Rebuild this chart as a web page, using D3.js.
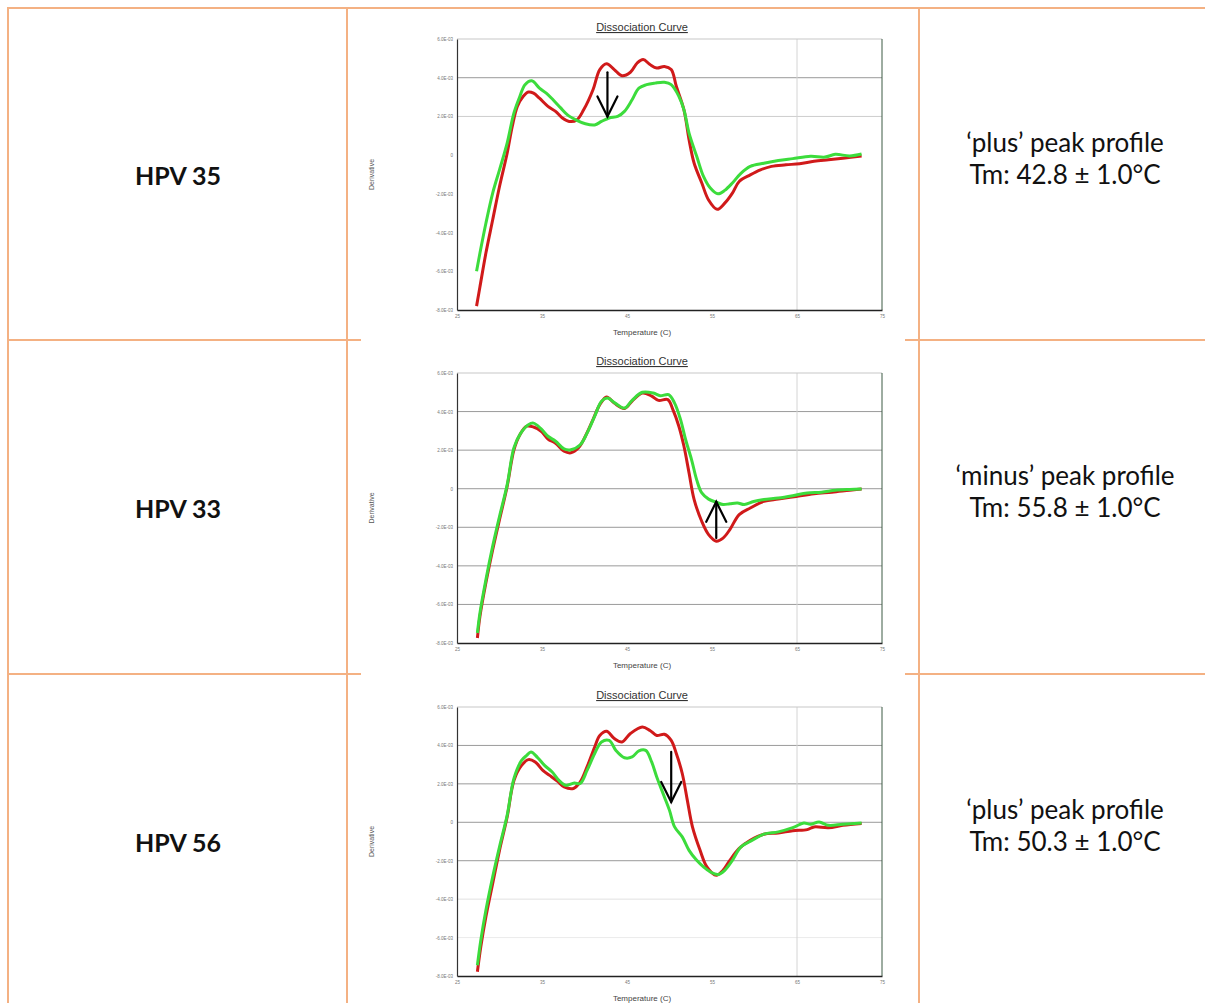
<!DOCTYPE html>
<html><head><meta charset="utf-8">
<script src="https://cdn.jsdelivr.net/npm/d3@7"></script>
<style>
html,body{margin:0;padding:0;background:#fff;}
svg{display:block;}
</style></head>
<body>
<script>
// ---------- data ----------
const rowLabels = ["HPV 35", "HPV 33", "HPV 56"];
const profileLines = [
  ["\u2018plus\u2019 peak profile", "Tm: 42.8 \u00b1 1.0\u00b0C"],
  ["\u2018minus\u2019 peak profile", "Tm: 55.8 \u00b1 1.0\u00b0C"],
  ["\u2018plus\u2019 peak profile", "Tm: 50.3 \u00b1 1.0\u00b0C"]
];
const chartTitle = "Dissociation Curve";
const xTicks = [25, 35, 45, 55, 65, 75];
const yTicks = [3, 2, 1, 0, -1, -2, -3, -4];
const yTickLabels = ["6.0E-03", "4.0E-03", "2.0E-03", "0", "-2.0E-03", "-4.0E-03", "-6.0E-03", "-8.0E-03"];

// chart 1 (HPV 35): [temperature, derivative]
const red1 = [[27.3,-3.9],[27.7,-3.4],[28.4,-2.53],[29.2,-1.67],[30.0,-0.81],[30.9,0.05],[31.5,0.74],[32.1,1.26],[32.8,1.52],[33.4,1.63],[34.0,1.6],[34.7,1.47],[35.7,1.26],[36.6,1.13],[37.4,0.96],[38.2,0.87],[39.1,0.91],[39.9,1.17],[41.0,1.69],[41.8,2.21],[42.6,2.36],[43.5,2.21],[44.4,2.05],[45.4,2.14],[46.2,2.38],[46.9,2.47],[47.7,2.34],[48.5,2.25],[49.4,2.29],[50.2,2.21],[50.8,1.78],[51.7,1.17],[52.3,0.40],[52.9,-0.21],[53.8,-0.72],[54.6,-1.16],[55.6,-1.40],[56.5,-1.24],[57.4,-0.98],[58.2,-0.68],[59.5,-0.51],[60.7,-0.38],[62.0,-0.29],[63.7,-0.25],[65.3,-0.22],[67.0,-0.16],[68.7,-0.12],[70.4,-0.08],[72.6,-0.02]];
const green1 = [[27.3,-3.0],[27.7,-2.53],[28.4,-1.76],[29.2,-0.98],[30.0,-0.38],[30.9,0.31],[31.7,1.09],[32.4,1.52],[33.0,1.82],[33.8,1.92],[34.7,1.73],[35.5,1.6],[36.3,1.43],[37.2,1.22],[38.0,1.04],[39.1,0.9],[40.1,0.81],[41.2,0.78],[42.0,0.87],[42.9,0.96],[43.9,1.0],[44.7,1.13],[45.6,1.43],[46.4,1.73],[47.3,1.82],[48.3,1.86],[49.4,1.88],[50.2,1.82],[51.1,1.52],[51.7,1.17],[52.3,0.57],[53.2,-0.03],[54.0,-0.55],[54.8,-0.85],[55.7,-1.0],[56.5,-0.91],[57.4,-0.72],[58.4,-0.47],[59.5,-0.29],[61.1,-0.21],[62.8,-0.14],[64.5,-0.09],[66.6,-0.03],[68.3,-0.05],[69.5,0.02],[71.2,-0.02],[72.6,0.03]];
// chart 2 (HPV 33)
const red2 = [[27.4,-3.87],[27.7,-3.31],[28.4,-2.44],[29.2,-1.58],[30.0,-0.80],[30.9,0.06],[31.7,1.01],[32.4,1.40],[33.2,1.62],[34.0,1.60],[34.9,1.49],[35.7,1.29],[36.6,1.18],[37.6,0.97],[38.4,0.93],[39.3,1.06],[40.1,1.36],[41.0,1.79],[41.8,2.18],[42.6,2.38],[43.5,2.22],[44.7,2.08],[45.6,2.27],[46.8,2.48],[47.9,2.40],[48.7,2.29],[49.8,2.31],[50.4,2.05],[51.1,1.62],[51.7,1.10],[52.3,0.41],[52.9,-0.28],[53.8,-0.85],[54.6,-1.19],[55.5,-1.36],[56.3,-1.28],[57.1,-1.06],[58.2,-0.67],[59.5,-0.50],[61.1,-0.33],[62.8,-0.27],[64.9,-0.20],[67.0,-0.13],[69.1,-0.09],[71.2,-0.04],[72.6,-0.01]];
const green2 = [[27.4,-3.74],[27.7,-3.22],[28.4,-2.36],[29.2,-1.49],[30.0,-0.72],[30.9,0.10],[31.7,1.06],[32.5,1.44],[33.4,1.66],[34.0,1.70],[34.9,1.55],[35.7,1.36],[36.6,1.23],[37.6,1.03],[38.4,1.01],[39.5,1.14],[40.3,1.44],[41.2,1.88],[42.0,2.27],[42.7,2.35],[43.6,2.22],[44.7,2.09],[45.6,2.29],[46.8,2.50],[48.1,2.48],[48.9,2.41],[49.9,2.44],[50.6,2.22],[51.3,1.79],[51.9,1.27],[52.6,0.75],[53.2,0.23],[53.8,-0.11],[54.6,-0.27],[55.5,-0.35],[56.3,-0.41],[57.1,-0.39],[58.0,-0.37],[58.8,-0.41],[59.9,-0.33],[61.1,-0.28],[62.8,-0.24],[64.5,-0.18],[66.2,-0.11],[67.9,-0.09],[69.5,-0.04],[71.2,-0.02],[72.6,-0.01]];
// chart 3 (HPV 56)
const red3 = [[27.4,-3.89],[27.8,-3.24],[28.4,-2.46],[29.2,-1.59],[30.0,-0.73],[30.9,0.14],[31.7,1.09],[32.6,1.48],[33.4,1.63],[34.2,1.57],[35.1,1.35],[35.9,1.22],[36.8,1.07],[37.6,0.92],[38.7,0.88],[39.5,1.05],[40.3,1.44],[41.2,1.96],[41.8,2.26],[42.6,2.37],[43.5,2.18],[44.4,2.09],[45.4,2.31],[46.8,2.48],[47.7,2.39],[48.5,2.26],[49.4,2.29],[50.2,2.13],[50.8,1.79],[51.5,1.27],[52.1,0.57],[52.7,-0.12],[53.6,-0.73],[54.4,-1.16],[55.5,-1.38],[56.3,-1.25],[57.1,-0.99],[58.2,-0.68],[59.5,-0.47],[61.1,-0.31],[62.8,-0.28],[64.5,-0.22],[66.2,-0.19],[67.0,-0.12],[68.7,-0.14],[70.4,-0.08],[72.6,-0.03]];
const green3 = [[27.4,-3.72],[27.8,-3.07],[28.4,-2.29],[29.2,-1.42],[30.0,-0.64],[30.9,0.18],[31.7,1.14],[32.6,1.61],[33.2,1.74],[33.7,1.83],[34.5,1.68],[35.3,1.48],[36.2,1.31],[37.0,1.09],[37.8,0.96],[38.8,1.02],[39.5,1.01],[40.3,1.35],[41.2,1.79],[42.0,2.09],[42.9,2.13],[43.7,1.87],[44.7,1.68],[45.6,1.70],[46.4,1.86],[47.2,1.87],[47.9,1.57],[48.5,1.18],[49.4,0.66],[50.0,0.31],[50.6,-0.12],[51.5,-0.38],[52.3,-0.73],[53.2,-0.99],[54.0,-1.16],[54.8,-1.29],[55.7,-1.36],[56.5,-1.25],[57.4,-0.99],[58.4,-0.64],[59.7,-0.47],[61.1,-0.31],[62.8,-0.25],[64.5,-0.14],[65.8,-0.02],[66.6,-0.05],[67.6,0.01],[68.7,-0.08],[70.4,-0.05],[72.6,-0.02]];

// arrows: [x, yStart(tail), yEnd(tip)]
const arrows = [[42.7, 2.14, 1.0], [55.5, -1.28, -0.34], [50.2, 1.83, 0.53]];
// visible horizontal gridlines per chart [value, strength]
const grids = [
  [[2, 1], [1, 0.5]],
  [[2, 1], [1, 1], [0, 1], [-1, 1], [-2, 1], [-3, 1]],
  [[2, 1], [1, 1], [0, 1], [-1, 1], [-2, 0.3], [-3, 0.2]]
];
const vGrid = [65];

// ---------- layout ----------
const W = 1205, H = 1003;
const svg = d3.select("body").append("svg").attr("width", W).attr("height", H);
const orange = "#f4b183";

const plotTops = [39, 373, 707], plotBottoms = [310, 643, 976];
const rowMid = [176, 509, 843];

// table lines
const tbl = svg.append("g").attr("stroke", orange).attr("stroke-width", 2).attr("fill", "none");
tbl.append("line").attr("x1", 7).attr("x2", W).attr("y1", 8).attr("y2", 8);
tbl.append("line").attr("x1", 8).attr("x2", 8).attr("y1", 7).attr("y2", H);
tbl.append("line").attr("x1", 347).attr("x2", 347).attr("y1", 7).attr("y2", H);
tbl.append("line").attr("x1", 919).attr("x2", 919).attr("y1", 7).attr("y2", H);
[340, 674].forEach(y => {
  tbl.append("line").attr("x1", 7).attr("x2", 361).attr("y1", y).attr("y2", y);
  tbl.append("line").attr("x1", 905).attr("x2", W).attr("y1", y).attr("y2", y);
});

// row labels
rowLabels.forEach((t, i) => {
  svg.append("text").attr("x", 178).attr("y", rowMid[i]).attr("dy", "0.35em")
    .attr("text-anchor", "middle").attr("font-family", "Lato, 'Noto Sans', sans-serif")
    .attr("font-weight", "bold").attr("font-size", 25).attr("fill", "#111").text(t);
  const g = svg.append("g").attr("font-family", "Lato, 'Noto Sans', sans-serif").attr("font-size", 26).attr("fill", "#111").attr("text-anchor", "middle");
  profileLines[i].forEach((l, j) => {
    g.append("text").attr("x", 1065).attr("y", rowMid[i] - 24 + j * 32).text(l);
  });
});

const series = [[red1, green1], [red2, green2], [red3, green3]];
const x = d3.scaleLinear().domain([25, 75]).range([457, 882]);

series.forEach((pair, i) => {
  const top = plotTops[i], bottom = plotBottoms[i];
  const y = d3.scaleLinear().domain([-4, 3]).range([bottom, top]);
  const g = svg.append("g");
  const font = "'Liberation Sans', Arial, sans-serif";

  // title
  g.append("text").attr("x", 642).attr("y", top - 8).attr("text-anchor", "middle")
    .attr("font-family", font).attr("font-size", 11).attr("fill", "#333")
    .attr("text-decoration", "underline").text(chartTitle);

  // gridlines
  grids[i].forEach(([v, s]) => {
    g.append("line").attr("x1", x(25)).attr("x2", x(75)).attr("y1", y(v)).attr("y2", y(v))
      .attr("stroke", d3.interpolateRgb("#ffffff", "#9a9a9a")(s)).attr("stroke-width", 1);
  });
  vGrid.forEach(v => {
    g.append("line").attr("x1", x(v)).attr("x2", x(v)).attr("y1", top).attr("y2", bottom)
      .attr("stroke", "#d4d4d4").attr("stroke-width", 1);
  });

  // frame
  g.append("line").attr("x1", x(25)).attr("x2", x(75)).attr("y1", top).attr("y2", top).attr("stroke", "#c8c8c8").attr("stroke-width", 1.2);
  g.append("line").attr("x1", x(75)).attr("x2", x(75)).attr("y1", top).attr("y2", bottom).attr("stroke", "#3d5a44").attr("stroke-width", 1);

  // axes
  const ax = g.append("g").attr("transform", `translate(0,${bottom})`)
    .call(d3.axisBottom(x).tickValues(xTicks).tickSize(0).tickPadding(5));
  ax.select(".domain").attr("stroke", "#222").attr("stroke-width", 1.3);
  ax.selectAll("text").attr("font-family", font).attr("font-size", 4.5).attr("fill", "#777");

  const ay = g.append("g").attr("transform", `translate(${x(25)},0)`)
    .call(d3.axisLeft(y).tickValues(yTicks).tickSize(0).tickPadding(4).tickFormat((d, k) => yTickLabels[k]));
  ay.select(".domain").attr("stroke", "#333").attr("stroke-width", 1.2);
  ay.selectAll("text").attr("font-family", font).attr("font-size", 4.5).attr("fill", "#777");

  g.append("text").attr("x", 642).attr("y", bottom + 25).attr("text-anchor", "middle")
    .attr("font-family", font).attr("font-size", 8).attr("fill", "#444").text("Temperature (C)");
  g.append("text").attr("transform", `translate(372,${(top + bottom) / 2}) rotate(-90)`)
    .attr("text-anchor", "middle").attr("dy", "0.35em")
    .attr("font-family", font).attr("font-size", 7).attr("fill", "#555").text("Derivative");

  const line = d3.line().x(d => x(d[0])).y(d => y(d[1])).curve(d3.curveCatmullRom.alpha(0.5));
  g.append("path").datum(pair[0]).attr("d", line).attr("fill", "none")
    .attr("stroke", "#d01a1a").attr("stroke-width", 3).attr("stroke-linejoin", "round");
  g.append("path").datum(pair[1]).attr("d", line).attr("fill", "none")
    .attr("stroke", "#3cdc3c").attr("stroke-width", 3).attr("stroke-linejoin", "round");

  // arrow
  const [ax0, yS, yE] = arrows[i];
  const dir = yE < yS ? 1 : -1;
  const tipY = y(yE), tailY = y(yS), cx = x(ax0);
  const wing = 20 * (dir === 1 ? -1 : 1);
  const ag = g.append("g").attr("stroke", "#000").attr("stroke-width", 2.2).attr("fill", "none").attr("stroke-linecap", "round");
  ag.append("line").attr("x1", cx).attr("x2", cx).attr("y1", tailY).attr("y2", tipY);
  ag.append("polyline").attr("points", `${cx - 10},${tipY + wing} ${cx},${tipY} ${cx + 10},${tipY + wing}`);
});
</script>
</body></html>
